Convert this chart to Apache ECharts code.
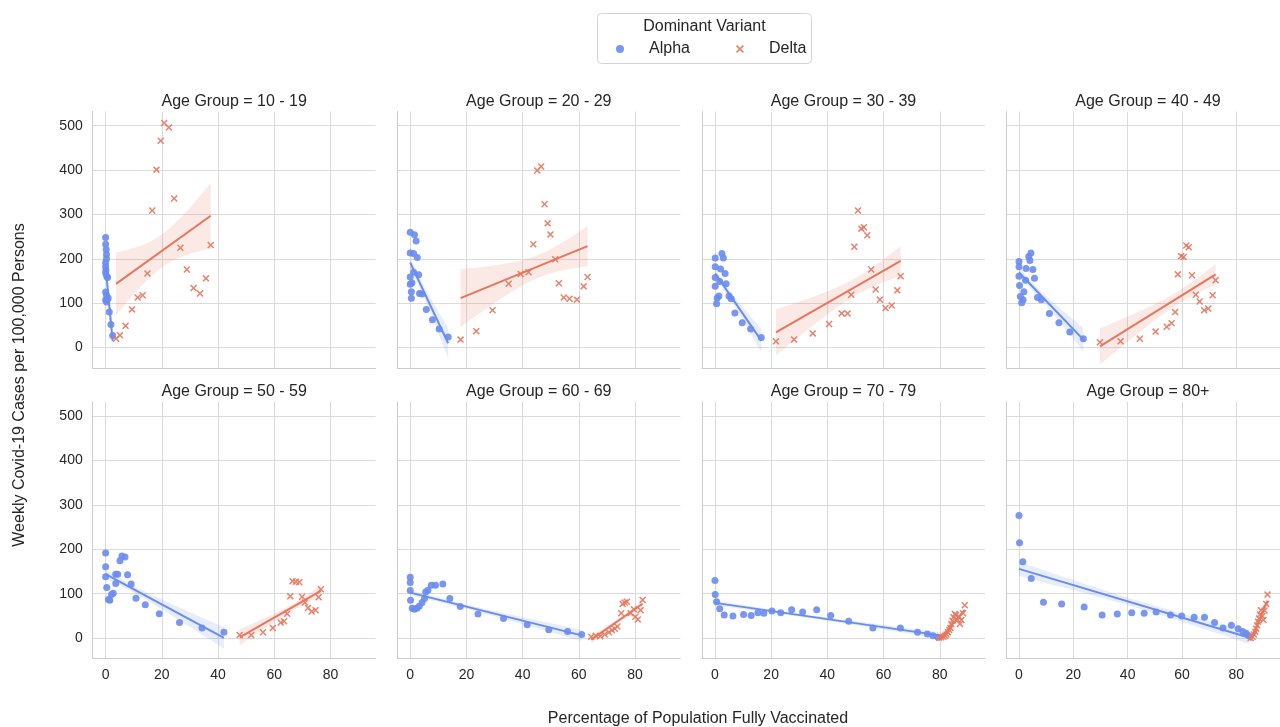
<!DOCTYPE html>
<html>
<head>
<meta charset="utf-8">
<script src="https://cdn.jsdelivr.net/npm/echarts@6/dist/echarts.min.js"></script>
<style>
html,body{margin:0;padding:0;background:#fff;}
#chart{width:1280px;height:727px;}
</style>
</head>
<body>
<div id="chart"></div>
<script>
// ---------------- DATA ----------------
const ageGroups = ['10 - 19','20 - 29','30 - 39','40 - 49','50 - 59','60 - 69','70 - 79','80+'];
const variants = ['Alpha','Delta'];
const xTickLabels = [0,20,40,60,80];
const yTickLabels = [0,100,200,300,400,500];

const alpha_10_19 = [[0,248],[0,233],[0.2,221],[0.3,210],[0.3,200],[0,192],[0,183],[0.1,175],[0,168],[0.4,161],[0.7,158],[0,125],[0.3,118],[0.9,112],[0,107],[0.3,103],[0.6,108],[1.3,80],[1.9,52],[2.5,27]];
const delta_10_19 = [[3.7,20],[5.1,28],[7.1,49],[9.4,86],[11.4,113],[13.2,118],[14.9,167],[16.6,309],[18.1,401],[19.6,466],[20.8,506],[22.5,496],[24.4,336],[26.6,225],[28.9,176],[31.3,134],[33.6,122],[35.7,156],[37.4,231]];

const alpha_20_29 = [[0,260],[1.5,254],[2.1,240],[0,213],[1.2,212],[2.5,203],[0,159],[1.2,170],[3,164],[0,143],[0.6,146],[0.4,126],[0.4,111],[3.3,122],[4.2,121],[5.7,86],[7.9,63],[10.3,42],[13.5,24]];
const delta_20_29 = [[17.9,18],[23.5,37],[29.3,84],[35,144],[39.3,166],[42.1,170],[43.8,233],[45.2,399],[46.6,408],[47.8,323],[48.9,280],[49.9,255],[51.6,199],[52.9,145],[54.6,113],[56.7,110],[59.3,108],[61.7,138],[63.1,159]];

const alpha_30_39 = [[0.1,202],[2.5,212],[3,202],[0.1,182],[2,177],[3.6,167],[0.1,158],[1.7,149],[4,144],[0.1,138],[0.8,112],[1.4,116],[0.6,99],[5,116],[5.8,110],[7.1,78],[9.7,56],[12.7,42],[16.5,23]];
const delta_30_39 = [[21.7,14],[28.2,18],[34.8,32],[40.6,53],[45.1,77],[47.2,77],[48.5,119],[49.6,227],[50.9,309],[52.1,268],[53,271],[54.2,253],[55.6,176],[57.2,131],[58.7,108],[60.7,89],[62.9,95],[64.9,129],[66.1,161]];

const alpha_40_49 = [[0,194],[0,182],[3.6,205],[4.4,213],[4,196],[2.6,178],[5.1,176],[0,161],[2.4,152],[5.7,156],[0.2,140],[1.8,126],[0.5,115],[1.5,108],[1,101],[6.8,113],[8.2,108],[11.2,77],[14.7,56],[18.7,35],[23.7,20]];
const delta_40_49 = [[29.8,12],[37.4,14],[44.5,20],[50.3,36],[54.4,47],[56.2,55],[57.5,80],[58.5,165],[59.7,206],[60.6,204],[61.6,230],[62.5,226],[63.7,163],[65.1,119],[66.5,104],[68.2,84],[69.7,88],[71.3,118],[72.4,152]];

const alpha_50_59 = [[0,192],[0,161],[0,138],[0.4,114],[1,87],[1.5,85],[2.1,98],[2.7,101],[3.6,144],[4.3,144],[3.6,123],[5.1,174],[5.8,185],[6.9,183],[7.8,143],[9.1,122],[10.8,90],[14.1,75],[19.1,55],[26.3,35],[34.3,23],[42.1,13]];
const delta_50_59 = [[47.7,7],[51.8,7],[56,13],[59.5,23],[62.3,35],[63.5,38],[64.6,55],[65.7,94],[66.5,128],[67.7,127],[68.9,126],[69.9,93],[70.9,80],[72,68],[73.3,60],[74.7,63],[75.8,92],[76.6,110]];

const alpha_60_69 = [[0,137],[0,125],[0,107],[0.1,85],[0.7,67],[1.5,65],[2.4,67],[3.2,72],[4.2,80],[5.1,89],[5.5,104],[6.3,108],[7.5,119],[9,119],[11.6,122],[14.1,89],[17.8,71],[24.1,54],[33.2,44],[41.6,30],[49.3,19],[56,15],[61,8]];
const delta_60_69 = [[64.4,3],[66,5],[67.6,4],[69.2,8],[70.7,13],[71.8,18],[72.8,21],[73.7,26],[75.1,56],[75.6,77],[76.3,80],[77.1,82],[78.4,56],[79.6,65],[80.1,48],[81,42],[82,63],[82.7,86]];

const alpha_70_79 = [[0,130],[0.1,98],[0.6,82],[1.7,66],[3.3,52],[6.4,50],[10.2,53],[12.9,51],[15.3,57],[17.4,56],[20.3,61],[23.4,57],[27.3,64],[31.2,59],[36.2,64],[41.2,51],[47.6,38],[56.2,23],[66,23],[72.1,13],[75.6,9],[77.6,5],[79.4,2]];
const delta_70_79 = [[79.8,1],[80.5,2],[81.3,3],[81.9,5],[82.4,8],[82.9,13],[83.4,18],[83.8,23],[84.1,32],[84.5,39],[84.9,47],[85.4,54],[85.8,52],[86.3,41],[86.8,48],[87.2,32],[87.7,41],[88.3,56],[88.9,74]];

const alpha_80_plus = [[0,276],[0.2,215],[1.4,172],[4.5,134],[9,81],[15.7,77],[24,70],[30.6,52],[36.2,54],[41.5,57],[46.1,56],[50.5,59],[55.8,52],[59.9,50],[64.5,47],[68.3,47],[72,35],[75.1,23],[78.2,29],[80.7,21],[82.4,15],[83.6,11],[84.6,5]];
const delta_80_plus = [[85.3,0],[86,3],[86.5,8],[87,14],[87.3,21],[87.7,29],[88,37],[88.4,44],[88.7,53],[89.1,63],[89.6,50],[90,41],[90.4,62],[91,77],[91.5,98]];

const alphaByPanel = [alpha_10_19, alpha_20_29, alpha_30_39, alpha_40_49, alpha_50_59, alpha_60_69, alpha_70_79, alpha_80_plus];
const deltaByPanel = [delta_10_19, delta_20_29, delta_30_39, delta_40_49, delta_50_59, delta_60_69, delta_70_79, delta_80_plus];

// ---------------- STYLE / LAYOUT ----------------
const COLORS = { Alpha: '#6a8cee', Delta: '#e7765c' };
const BANDS = { Alpha: 'rgba(106,140,238,0.16)', Delta: 'rgba(231,118,92,0.16)' };
const X_SYMBOL = 'path://M1.5,0L5,3.5L8.5,0L10,1.5L6.5,5L10,8.5L8.5,10L5,6.5L1.5,10L0,8.5L3.5,5L0,1.5Z';
const FONT = '"Liberation Sans", Arial, Helvetica, sans-serif';
const TEXT = '#262626';
const GRIDC = '#dadada';
const X_MIN = -4.6, X_MAX = 96.1, Y_MIN = -46, Y_MAX = 532;
const colLefts = [92.7, 397.3, 702, 1006.5];
const rowTops = [111.5, 402];
const GW = 283, GH = 256.5;
const CI_T = 1.05;

// ---------------- REGRESSION ----------------
function fit(pts) {
  const n = pts.length;
  let mx = 0, my = 0;
  pts.forEach(p => { mx += p[0]; my += p[1]; });
  mx /= n; my /= n;
  let sxx = 0, sxy = 0;
  pts.forEach(p => { sxx += (p[0]-mx)*(p[0]-mx); sxy += (p[0]-mx)*(p[1]-my); });
  const b = sxy / sxx, a = my - b*mx;
  let sse = 0;
  pts.forEach(p => { const r = p[1] - (a + b*p[0]); sse += r*r; });
  const df = n - 2;
  const s = Math.sqrt(sse / df);
  const xs = pts.map(p => p[0]);
  const x0 = Math.min(...xs), x1 = Math.max(...xs);
  const band = [];
  const steps = 60;
  for (let i = 0; i <= steps; i++) {
    const x = x0 + (x1 - x0) * i / steps;
    const yh = a + b*x;
    const se = s * Math.sqrt(1/n + (x-mx)*(x-mx)/sxx);
    band.push([x, yh - CI_T*se, yh + CI_T*se]);
  }
  return { line: [[x0, a + b*x0], [x1, a + b*x1]], band };
}

// ---------------- BUILD OPTION ----------------
const grids = [], xAxes = [], yAxes = [], series = [], graphics = [];
ageGroups.forEach((g, i) => {
  const row = Math.floor(i / 4), col = i % 4;
  grids.push({ left: colLefts[col], top: rowTops[row], width: GW, height: GH, containLabel: false });
  xAxes.push({
    type: 'value', gridIndex: i, min: X_MIN, max: X_MAX, minInterval: 20, maxInterval: 20,
    axisLine: { show: true, onZero: false, lineStyle: { color: '#cccccc', width: 1 } },
    axisTick: { show: false },
    axisLabel: { show: row === 1, showMinLabel: false, showMaxLabel: false, margin: 10,
      color: TEXT, fontSize: 14, fontFamily: FONT,
      formatter: v => (xTickLabels.indexOf(v) >= 0 ? String(v) : '') },
    splitLine: { show: true, showMinLine: false, showMaxLine: false, lineStyle: { color: GRIDC, width: 1 } }
  });
  yAxes.push({
    type: 'value', gridIndex: i, min: Y_MIN, max: Y_MAX, minInterval: 100, maxInterval: 100,
    axisLine: { show: true, onZero: false, lineStyle: { color: '#cccccc', width: 1 } },
    axisTick: { show: false },
    axisLabel: { show: col === 0, showMinLabel: false, showMaxLabel: false, margin: 10,
      color: TEXT, fontSize: 14, fontFamily: FONT,
      formatter: v => (yTickLabels.indexOf(v) >= 0 ? String(v) : '') },
    splitLine: { show: true, showMinLine: false, showMaxLine: false, lineStyle: { color: GRIDC, width: 1 } }
  });
  graphics.push({
    type: 'text', x: colLefts[col] + GW/2, y: rowTops[row] - 10,
    style: { text: 'Age Group = ' + g, fill: TEXT, font: '16px ' + FONT, textAlign: 'center', textVerticalAlign: 'middle' }
  });

  const sets = { Alpha: alphaByPanel[i], Delta: deltaByPanel[i] };
  variants.forEach(v => {
    const pts = sets[v];
    const f = fit(pts);
    series.push({
      name: v, type: 'scatter', xAxisIndex: i, yAxisIndex: i, data: pts,
      symbol: v === 'Alpha' ? 'circle' : X_SYMBOL, symbolSize: 7,
      itemStyle: { color: COLORS[v], opacity: 0.9 },
      emphasis: { disabled: true }, z: 2, silent: true
    });
    const band = f.band;
    series.push({
      name: v + ' CI', type: 'custom', xAxisIndex: i, yAxisIndex: i,
      data: band, encode: { x: 0, y: [1, 2] }, z: 3, silent: true,
      renderItem: (params, api) => {
        if (params.dataIndex !== 0) return null;
        const up = band.map(b => api.coord([b[0], b[2]]));
        const lo = band.slice().reverse().map(b => api.coord([b[0], b[1]]));
        return { type: 'polygon', shape: { points: up.concat(lo) }, style: { fill: BANDS[v], stroke: null } };
      }
    });
    series.push({
      name: v + ' fit', type: 'line', xAxisIndex: i, yAxisIndex: i, data: f.line,
      symbol: 'none', lineStyle: { color: COLORS[v], width: 2 }, itemStyle: { color: COLORS[v] },
      z: 4, silent: true, animation: false
    });
  });
});

// axis names & legend box
graphics.push({
  type: 'text', x: 20, y: 385, rotation: Math.PI/2,
  style: { text: 'Weekly Covid-19 Cases per 100,000 Persons', fill: TEXT, font: '16px ' + FONT, textAlign: 'center', textVerticalAlign: 'middle' }
});
graphics.push({
  type: 'text', x: 698, y: 719,
  style: { text: 'Percentage of Population Fully Vaccinated', fill: TEXT, font: '16px ' + FONT, textAlign: 'center', textVerticalAlign: 'middle' }
});
graphics.push({
  type: 'rect', shape: { x: 597.5, y: 13.5, width: 214, height: 50, r: 4 }, z: -1,
  style: { fill: '#fff', stroke: '#d4d4d4', lineWidth: 1 }
});
graphics.push({
  type: 'text', x: 704.5, y: 27,
  style: { text: 'Dominant Variant', fill: TEXT, font: '16px ' + FONT, textAlign: 'center', textVerticalAlign: 'middle' }
});

const option = {
  animation: false,
  backgroundColor: '#ffffff',
  grid: grids, xAxis: xAxes, yAxis: yAxes, series,
  graphic: graphics,
  legend: {
    left: 616, top: 41, padding: 0, itemWidth: 8, itemHeight: 8, itemGap: 46,
    selectedMode: false,
    data: [{ name: 'Alpha', icon: 'circle' }, { name: 'Delta', icon: X_SYMBOL }],
    textStyle: { color: TEXT, fontSize: 16, fontFamily: FONT, padding: [0, 0, 0, 20] }
  }
};
const chart = echarts.init(document.getElementById('chart'), null, { renderer: 'canvas' });
chart.setOption(option);
</script>
</body>
</html>
